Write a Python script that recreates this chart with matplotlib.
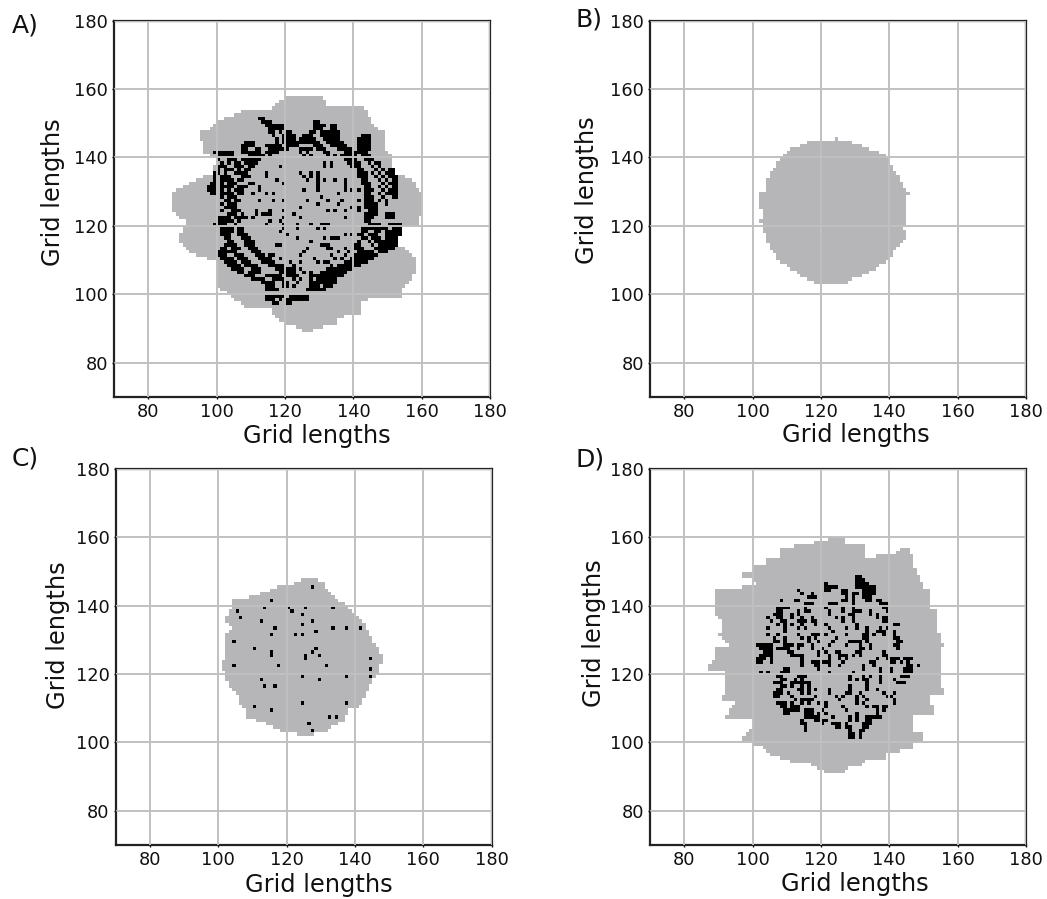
import numpy as np
import matplotlib
matplotlib.use("Agg")
import matplotlib.pyplot as plt
from matplotlib.colors import ListedColormap

W, H = 1047, 899
TICKS = [80, 100, 120, 140, 160, 180]
AXIS_MIN, AXIS_MAX = 70, 180

# Grey region of each panel: (row, first column, end column)
A_grey = [(157,120,131),(156,118,132),(155,117,132),(154,116,143),(153,107,144),(152,105,144),(151,102,145),(150,100,145),
 (149,99,146),(148,98,147),(147,95,149),(146,95,149),(145,95,149),(144,96,149),(143,96,149),(142,96,149),(141,96,150),
 (140,98,151),(139,100,151),(138,100,151),(137,99,151),(136,99,152),(135,99,152),(134,96,155),(133,94,157),(132,92,158),
 (131,90,158),(130,88,159),(129,87,160),(128,87,160),(127,87,160),(126,87,160),(125,87,160),(124,87,160),(123,88,160),
 (122,89,159),(121,91,159),(120,91,159),(119,90,153),(118,90,152),(117,89,152),(116,89,152),(115,89,152),(114,90,153),
 (113,91,155),(112,92,156),(111,94,157),(110,97,158),(109,100,158),(108,100,158),(107,100,158),(106,100,158),(105,100,157),
 (104,100,157),(103,100,156),(102,100,155),(101,101,154),(100,103,154),(99,104,154),(98,105,144),(97,107,142),(96,108,142),
 (95,116,142),(94,116,142),(93,117,137),(92,118,135),(91,120,135),(90,123,131),(89,125,128)]

B_grey = [(145,124,125),(144,116,129),(143,114,132),(142,111,134),(141,110,137),(140,109,139),(139,108,140),(138,107,140),
 (137,107,141),(136,106,141),(135,105,142),(134,105,143),(133,104,143),(132,104,144),(131,104,144),(130,104,145),(129,102,146),
 (128,102,145),(127,102,145),(126,102,145),(125,102,145),(124,103,145),(123,103,145),(122,103,145),(121,102,145),(120,103,145),
 (119,103,144),(118,103,145),(117,104,145),(116,104,145),(115,104,144),(114,105,143),(113,105,142),(112,106,141),(111,107,141),
 (110,107,140),(109,108,139),(108,110,137),(107,111,136),(106,113,134),(105,114,132),(104,116,129),(103,118,128)]

C_grey = [(147,124,129),(146,122,131),(145,117,131),(144,115,132),(143,112,133),(142,109,134),(141,104,135),(140,104,137),
 (139,104,138),(138,103,139),(137,103,140),(136,102,141),(135,102,142),(134,103,143),(133,104,143),(132,103,144),(131,102,144),
 (130,102,145),(129,102,145),(128,102,146),(127,102,147),(126,102,147),(125,102,148),(124,102,148),(123,101,148),(122,101,147),
 (121,101,147),(120,102,147),(119,102,146),(118,102,145),(117,103,145),(116,103,144),(115,104,144),(114,105,143),(113,106,143),
 (112,106,142),(111,106,142),(110,107,141),(109,108,138),(108,108,138),(107,108,137),(106,111,137),(105,114,135),(104,116,133),
 (103,118,132),(102,123,128)]

D_grey = [(159,122,127),(158,118,127),(157,112,133),(156,108,133),(156,143,146),(155,108,133),(155,142,146),(154,108,133),(154,136,147),
 (153,104,147),(152,104,147),(151,100,147),(150,100,148),(149,97,148),(148,97,149),(147,100,149),(146,101,150),(145,97,150),
 (144,89,152),(143,89,152),(142,89,152),(141,89,152),(140,89,152),(139,89,152),(138,89,154),(137,89,154),(136,90,154),(135,91,154),
 (134,91,154),(133,91,154),(132,91,154),(131,90,155),(130,91,155),(129,92,155),(128,93,156),(127,89,155),(126,89,155),(125,89,155),
 (124,89,155),(123,88,155),(122,87,155),(121,87,155),(120,92,155),(119,92,155),(118,92,155),(117,92,155),(116,92,155),(115,92,156),
 (114,92,156),(113,91,152),(112,91,152),(111,95,152),(110,94,153),(109,93,153),(108,93,153),(107,92,147),(106,100,147),(105,100,147),
 (104,100,147),(103,99,147),(102,98,150),(101,97,150),(100,97,150),(99,100,147),(98,103,147),(97,104,143),(96,105,139),(95,108,139),
 (94,111,133),(93,117,132),(92,119,128),(91,121,127)]

# Black cells of each panel: row number followed by runs of columns
A_black = {151:"112-113",150:"113-115 128-129",149:"114-119 128-131 133-134",148:"115-119 128-130 133-134",
 147:"115-116 118 120-121 127-128 130-135",146:"116 119 120-122 125-127 130-135 142-144",
 145:"117 119 120-122 124-128 131-135 141-144",144:"108-110 117 119 120-123 124-129 132-136 141-144",
 143:"107-110 114-118 120-123 128-130 133-137 141-144",142:"107-108 111-112 115-120 124-127 129-131 135-139 141-144",
 141:"99-104 107-112 114-117 124 126 131-132 137-140 141-143",140:"100-104 109-113 115 125 127 132 134 136-140 142-144",
 139:"100 103-105 107-112 137-140 143-145",138:"101 103 105-106 108-111 131 133 138-141 144 146-147",
 137:"100-102 105-107 109-110 118 131 133 139-141 145 147",136:"100 102-104 106 108-109 141-142 146 148 150-151",
 135:"99-100 102 105-108 114 124 127 129 141-143 145 147 149-151",134:"99 101-103 107-109 114 125 127 129 141-143 146 148 150-152",
 133:"99 101-104 106-107 117 126 129 131 134 137 142-143 147 149 151-152",132:"98-99 101 103-105 109-110 119 129 137 142-144 148 150-152",
 131:"97-99 101-104 106-108 112 129 137 143-144 147 149 151-152",130:"97-99 101 103 105-107 112 125 129 137 139 141 143-145 148 150-152",
 129:"98-99 101-104 106-107 110 114 116 135 143-144 147 149-152",128:"101 103-105 130 143-145 148 151-152",
 127:"102-103 105-106 112 116 119 126 132 136 141 143-145 147 149",126:"101 103-105 129 135 143-146 149",
 125:"102-105 124 139 141 143-146",124:"101 104-106 111 115 119 132 134 137 141 144-146",
 123:"103-105 107 111 113-115 122 143-146 149-151",122:"100-103 105-108 110 119 124 137 143-145 149-151",
 121:"100-104 106 115 118 143-144",120:"99-102 105 114 119 123 127 130-132 144-147 150-153",
 119:"101-104 106-107 119 123 129 131 142-149 151-153",118:"101-104 106-107 118 142-143 146-147 149-153",
 117:"101-103 106-108 120 137 139 141-142 144-146 149-153",116:"102-103 107-109 123 131 133-135 142-143 145-147 149-152",
 115:"103-104 108-110 127 141 144 146-152",114:"102-105 108-110 117-118 130-132 140-141 145 147-152",
 113:"101-102 104-106 109-111 126 132-133 137 140-142 146-151",112:"100-105 110-112 125 135 138 141-145 147-149",
 111:"100-102 105-107 111-113 115-116 124 133 137 140-146",110:"101-104 106-108 112-115 118 128 134 136 139-145",
 109:"102-105 107-109 113-116 121 124 129 131-132 137-143",108:"103-106 108-111 115-119 122 133 135-141",
 107:"104-107 110-112 117-122 124 132-139",106:"106-107 109-112 118-122 125 127 130-137",
 105:"108-110 114-118 120-123 127-136",104:"110-113 116-119 122 124 127 129-134",103:"113-116 119-120 123 127-134",
 102:"114-116 119-120 122 127-129 131-133",101:"114-117 126-131",99:"114-119 121-126",98:"114-116 118 120-126",97:"116-117 120-121"}

C_black = {145:"127",141:"115",139:"113 120 125 133",138:"105 121",137:"124",136:"106",135:"112 127",134:"124",
 133:"116 133 137 141",132:"128",131:"115 122 124",129:"104",127:"110 128",126:"115 127",125:"115 125 129",
 124:"125 144",122:"104 117 131",121:"144",119:"124 137 144",118:"112 129",116:"113 116",111:"124 137",110:"110",
 109:"115",107:"132 134",105:"126",103:"127"}

D_black = {148:"130-131",147:"130-132",146:"121 130-133",145:"121-124 130-135",144:"113 121-122 126-127 132-135",
 143:"114 117 126-127 129-130 132-135",142:"116-118 127 129 132-134",141:"108 112-113 126-127 129 133-134 136-137",
 140:"115-117 122-124 129 137-139",139:"107-110 115 121 126 129 138-139",138:"107-108 113 115-116 122 126 129-131 134 139",
 137:"106-108 111 113 122 128-129 134 136",136:"104 107-108 111 114 117 124 126 129 136 138-139",
 135:"105 108-109 113-115 117-118 126 129 138-139",134:"107 109 111 114 118 121 130 141 142",
 133:"104 109 113 115 122 127 130 133 137 139",132:"109 123 133 136-138 141",
 131:"104 107 113 117-119 121 127 132-133 135 138 141",130:"106 109 114 116 118 124 132-133 141-142",
 129:"106-107 109 116 119 123 128-131 133 142-143",128:"101-105 109-111 113-114 117 122 127 131 134 141 142",
 127:"102-105 107-110 113 117 120 131-132 134 142",126:"103-105 110-111 119 121 124-125 130-131 138",
 125:"102-105 111-114 119 122 125-127 129 131 138-139",124:"101-103 105 114 122 125 127 136 139-142 144-146",
 123:"101-102 105 114 117-122 126 134-135 140 141 143 145",122:"114 118-119 122 125 132 135 145-146 148",
 121:"109-110 119 132 137 140 144-146",120:"102 104 108-110 122 129 137 140 144-146",
 119:"107-108 113-115 128 132 134 137 143-145",118:"108-109 112 114 128 130 132-133 137 141",
 117:"106-108 111-116 133 137 142-144",116:"108-109 111 114 116 128 133",115:"107-108 113-114 116 118 122 128 133 136",
 114:"106-108 110 114 116 122 127-128 131 138 141",113:"106-107 111 118 124 126 130 132 139-140",
 112:"112 114-117 125 130 133 141",111:"107-109 111 114 116 119 121 130 132 141",
 110:"108-109 111-113 121 126 133 135-136 138-139",109:"109-113 115-117 120 127 136 138",
 108:"109-110 115-117 119 121 130 136",107:"115-119 123 128 130 133-137",106:"114 118-121 128 130 133-134",
 105:"114-115 120 123-125 127 132-134",104:"115 124-125 127-128 132-133",103:"115 128 131-132",102:"128-129 131",101:"128-129 131"}

PANEL_LABELS = ["A)", "B)", "C)", "D)"]
X_LABEL = "Grid lengths"
Y_LABEL = "Grid lengths"


def build_cells(grey, black):
    cells = np.zeros((AXIS_MAX - AXIS_MIN, AXIS_MAX - AXIS_MIN), dtype=int)
    for row, first, end in grey:
        cells[row - AXIS_MIN, first - AXIS_MIN:end - AXIS_MIN] = 1
    for row, runs in black.items():
        for run in runs.split():
            lo, _, hi = run.partition("-")
            cells[row - AXIS_MIN, int(lo) - AXIS_MIN:int(hi or lo) + 1 - AXIS_MIN] = 2
    return cells


plt.rcParams["font.family"] = "DejaVu Sans"
fig = plt.figure(figsize=(W / 100, H / 100), dpi=100)
cmap = ListedColormap(["#ffffff", "#b6b6b8", "#000000"])


def panel(left, top, size, grey, black, label, label_xy, xlabel_xy, ylabel_xy):
    ax = fig.add_axes([left / W, 1 - (top + size) / H, size / W, size / H])
    ax.imshow(build_cells(grey, black), origin="lower", cmap=cmap, vmin=0, vmax=2,
              extent=(AXIS_MIN, AXIS_MAX, AXIS_MIN, AXIS_MAX), interpolation="nearest", aspect="auto")
    ax.set_xlim(AXIS_MIN, AXIS_MAX)
    ax.set_ylim(AXIS_MIN, AXIS_MAX)
    ax.set_xticks(TICKS)
    ax.set_yticks(TICKS)
    ax.set_axisbelow(False)
    ax.grid(True, color="#c0c0c0", linewidth=1.4)
    ax.tick_params(length=1.5, width=1, labelsize=12.8, pad=3, colors="#111111")
    for s in ax.spines.values():
        s.set_linewidth(1.6)
        s.set_color("#222222")
    ax.set_xlabel(X_LABEL, fontsize=17.4, color="#111111")
    ax.set_ylabel(Y_LABEL, fontsize=17.4, color="#111111")
    ax.xaxis.set_label_coords(xlabel_xy[0] / W, 1 - xlabel_xy[1] / H, transform=fig.transFigure)
    ax.yaxis.set_label_coords(ylabel_xy[0] / W, 1 - ylabel_xy[1] / H, transform=fig.transFigure)
    fig.text(label_xy[0] / W, 1 - label_xy[1] / H, label, fontsize=18, color="#111111", ha="left", va="center")
    return ax


panel(114.2, 20.7, 376, A_grey, A_black, PANEL_LABELS[0], (12, 25), (317, 424), (65, 192))
panel(650, 20.7, 376, B_grey, {}, PANEL_LABELS[1], (575, 20), (856, 423), (599, 190))
panel(115.8, 469, 376, C_grey, C_black, PANEL_LABELS[2], (12, 459), (319, 873), (70, 635))
panel(650, 469, 376, D_grey, D_black, PANEL_LABELS[3], (575, 460), (855, 872), (606, 633))

fig.savefig("out.png", dpi=100)
